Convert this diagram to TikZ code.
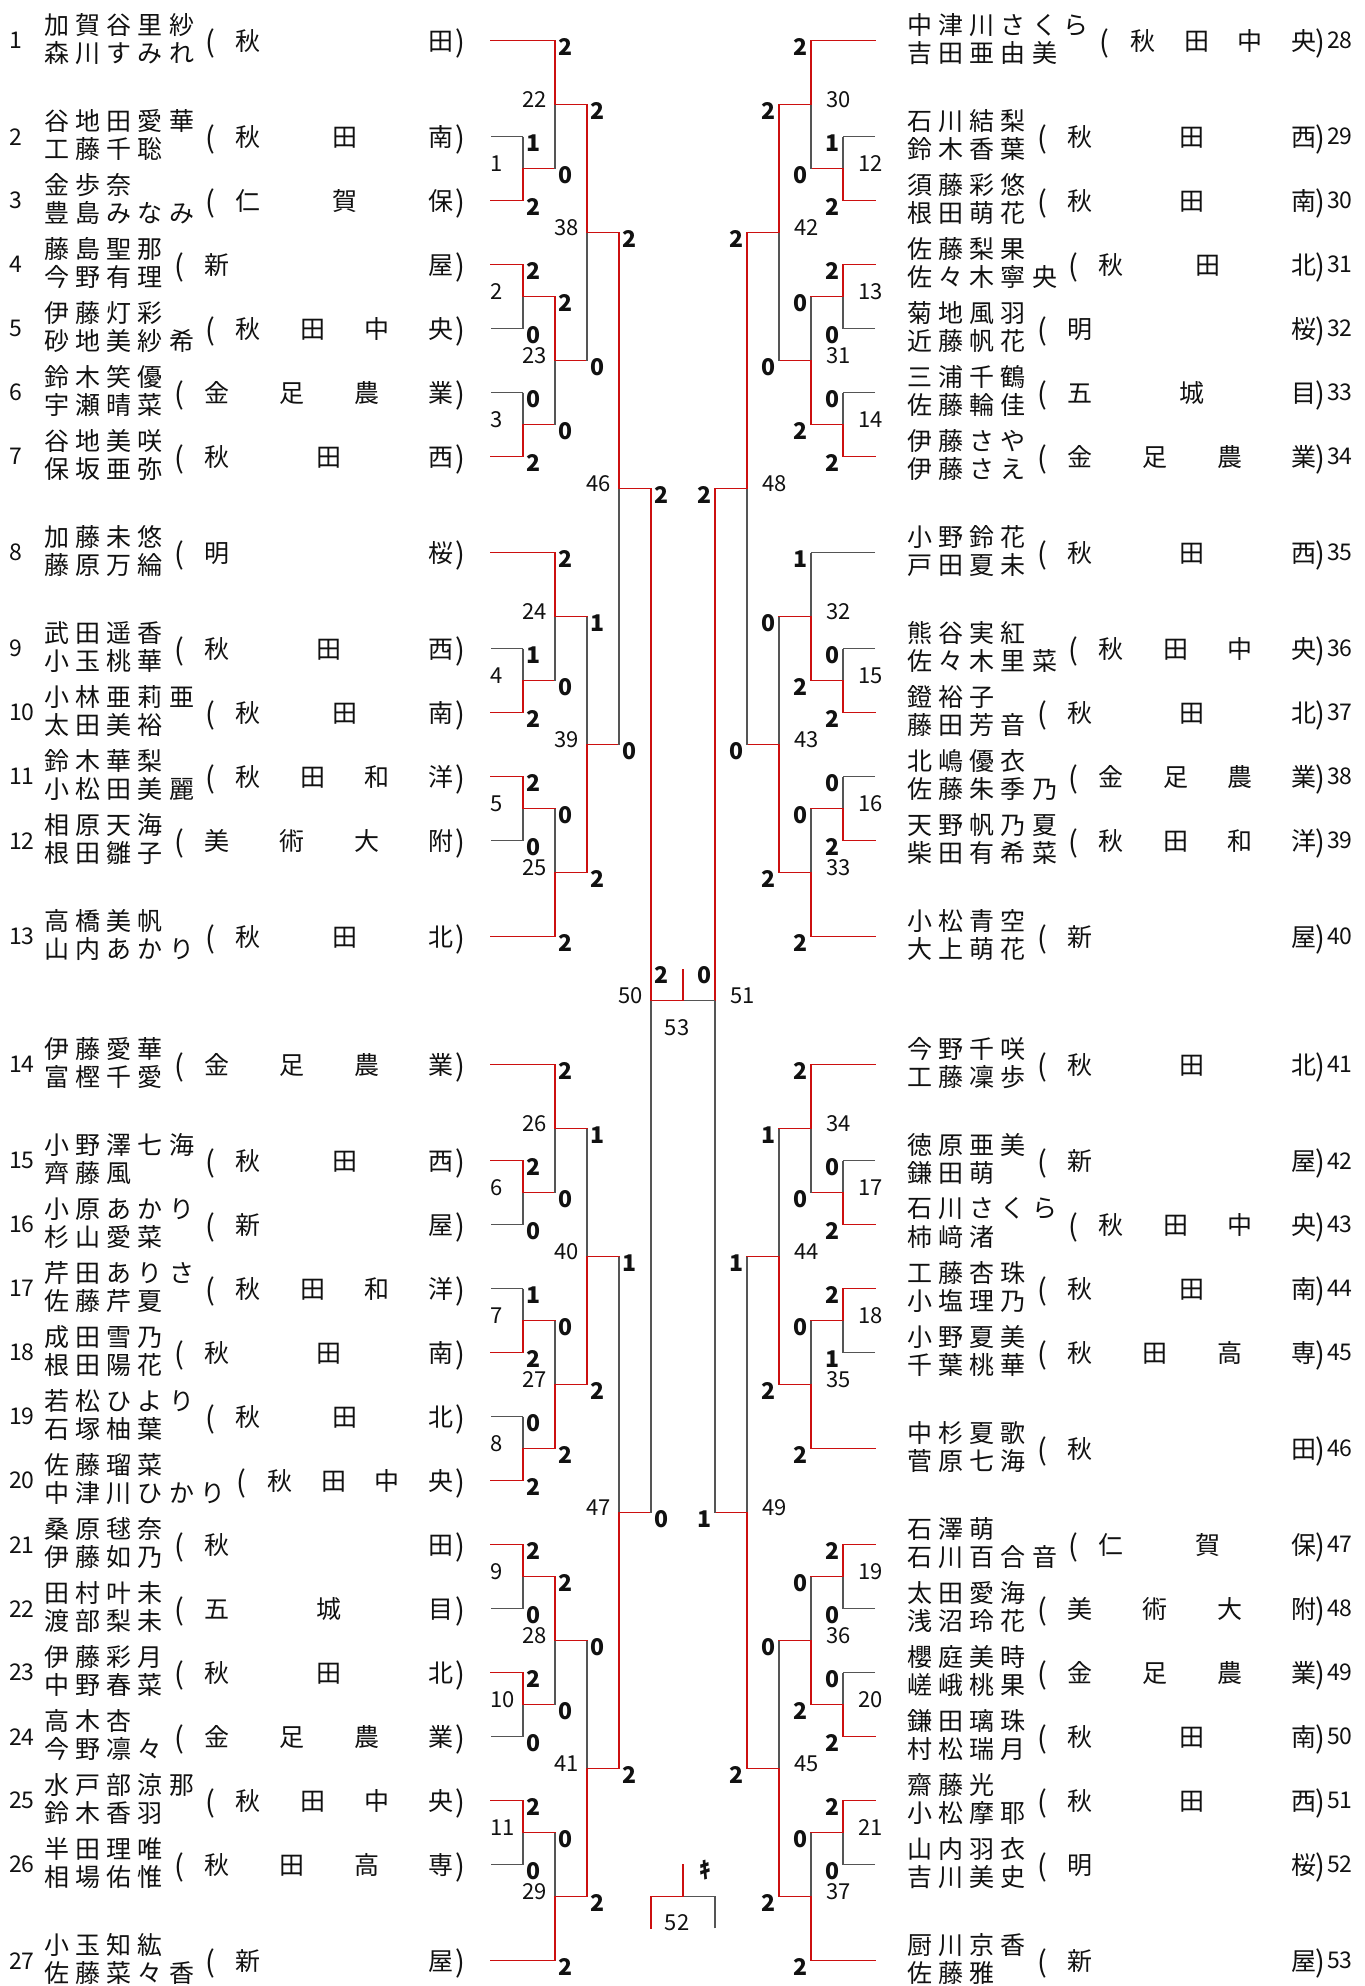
\documentclass[tikz,border=0pt]{standalone}
\usepackage{fontspec}
\setmainfont{Noto Sans CJK JP}
\usepackage{tikz}
\usetikzlibrary{positioning,calc}
\definecolor{textBlack}{HTML}{111111}
\definecolor{winRed}{HTML}{CC1010}
\definecolor{lossGrey}{HTML}{555555}
\newlength\nmpitch
\setlength\nmpitch{31.25pt}
\newcount\nmlen
\newcount\nmlenb
\makeatletter
\newcommand\spaced[1]{\@tfor\nmchar:=#1\do{\makebox[\nmpitch][l]{\nmchar}}}
\newcommand\distr[2]{\makebox[#1][s]{\let\nmsep\relax\@tfor\nmchar:=#2\do{\nmsep\nmchar\let\nmsep\hfill}}}
\newcommand\setnamelen[2]{\nmlen=0 \@tfor\nmchar:=#1\do{\advance\nmlen by 1 }%
  \nmlenb=0 \@tfor\nmchar:=#2\do{\advance\nmlenb by 1 }%
  \ifnum\nmlenb>\nmlen \nmlen=\nmlenb \fi}
\makeatother
\tikzset{
  nametext/.style={inner sep=0pt,text=textBlack,font=\fontsize{25}{25}\selectfont},
  numtext/.style={inner sep=0pt,text=textBlack,font=\fontsize{23}{23}\selectfont},
  paren/.style={inner sep=0pt,text=textBlack,font=\fontsize{29}{29}\selectfont},
  score/.style={inner sep=0pt,text=textBlack,font=\fontsize{23}{23}\selectfont\bfseries},
  mnum/.style={inner sep=0pt,text=textBlack,font=\fontsize{22}{22}\selectfont},
  won/.style={draw=winRed,line width=1.2pt,line cap=rect},
  lost/.style={draw=lossGrey,line width=1.1pt}
}
% #1 number, #2 slot, #3 left of names, #4 x of number, #5 #6 names, #7 school, #8 x of ")"
\newcommand\pairtext[8]{%
  \setnamelen{#5}{#6}%
  \pgfmathsetmacro\ypos{40.7+64*#2}%
  \pgfmathsetmacro\xname{#3+31.25*\the\nmlen}%
  \pgfmathsetlengthmacro\schw{374-31.25*\the\nmlen}%
  \node[numtext,anchor=west] (no#1) at (#4,\ypos) {#1};
  \node[nametext,anchor=west] (na#1) at (#3-1,\ypos-16) {\spaced{#5}};
  \node[nametext,anchor=west] (nb#1) at (#3-1,\ypos+12) {\spaced{#6}};
  \node[paren] (po#1) at (\xname+9,\ypos+3) {(};
  \node[nametext,anchor=west] (sc#1) at (\xname+34.5,\ypos) {\distr{\schw}{#7}};
  \node[paren] (pc#1) at (#8,\ypos+3) {)};
}
\newcommand\leftpair[5]{\pairtext{#1}{#2}{45}{9}{#3}{#4}{#5}{460}\coordinate (e#1) at (491,\ypos);}
\newcommand\rightpair[5]{\pairtext{#1}{#2}{908}{1327}{#3}{#4}{#5}{1320}\coordinate (e#1) at (875,\ypos);}

\begin{document}
\begin{tikzpicture}[x=1pt,y=-1pt]
\fill[white] (0,0) rectangle (1365,1986);
\useasboundingbox (0,0) rectangle (1365,1986);
\foreach \col in {1,...,5}{
  \coordinate (L\col) at (491+32*\col,0);
  \coordinate (R\col) at (875-32*\col,0);
}

\leftpair{1}{0}{加賀谷里紗}{森川すみれ}{秋田}
\leftpair{2}{1.5}{谷地田愛華}{工藤千聡}{秋田南}
\leftpair{3}{2.5}{金歩奈}{豊島みなみ}{仁賀保}
\leftpair{4}{3.5}{藤島聖那}{今野有理}{新屋}
\leftpair{5}{4.5}{伊藤灯彩}{砂地美紗希}{秋田中央}
\leftpair{6}{5.5}{鈴木笑優}{宇瀬晴菜}{金足農業}
\leftpair{7}{6.5}{谷地美咲}{保坂亜弥}{秋田西}
\leftpair{8}{8}{加藤未悠}{藤原万綸}{明桜}
\leftpair{9}{9.5}{武田遥香}{小玉桃華}{秋田西}
\leftpair{10}{10.5}{小林亜莉亜}{太田美裕}{秋田南}
\leftpair{11}{11.5}{鈴木華梨}{小松田美麗}{秋田和洋}
\leftpair{12}{12.5}{相原天海}{根田雛子}{美術大附}
\leftpair{13}{14}{高橋美帆}{山内あかり}{秋田北}
\leftpair{14}{16}{伊藤愛華}{富樫千愛}{金足農業}
\leftpair{15}{17.5}{小野澤七海}{齊藤風}{秋田西}
\leftpair{16}{18.5}{小原あかり}{杉山愛菜}{新屋}
\leftpair{17}{19.5}{芹田ありさ}{佐藤芹夏}{秋田和洋}
\leftpair{18}{20.5}{成田雪乃}{根田陽花}{秋田南}
\leftpair{19}{21.5}{若松ひより}{石塚柚葉}{秋田北}
\leftpair{20}{22.5}{佐藤瑠菜}{中津川ひかり}{秋田中央}
\leftpair{21}{23.5}{桑原毬奈}{伊藤如乃}{秋田}
\leftpair{22}{24.5}{田村叶未}{渡部梨未}{五城目}
\leftpair{23}{25.5}{伊藤彩月}{中野春菜}{秋田北}
\leftpair{24}{26.5}{高木杏}{今野凛々}{金足農業}
\leftpair{25}{27.5}{水戸部涼那}{鈴木香羽}{秋田中央}
\leftpair{26}{28.5}{半田理唯}{相場佑惟}{秋田高専}
\leftpair{27}{30}{小玉知紘}{佐藤菜々香}{新屋}

\rightpair{28}{0}{中津川さくら}{吉田亜由美}{秋田中央}
\rightpair{29}{1.5}{石川結梨}{鈴木香葉}{秋田西}
\rightpair{30}{2.5}{須藤彩悠}{根田萌花}{秋田南}
\rightpair{31}{3.5}{佐藤梨果}{佐々木寧央}{秋田北}
\rightpair{32}{4.5}{菊地風羽}{近藤帆花}{明桜}
\rightpair{33}{5.5}{三浦千鶴}{佐藤輪佳}{五城目}
\rightpair{34}{6.5}{伊藤さや}{伊藤さえ}{金足農業}
\rightpair{35}{8}{小野鈴花}{戸田夏未}{秋田西}
\rightpair{36}{9.5}{熊谷実紅}{佐々木里菜}{秋田中央}
\rightpair{37}{10.5}{鐙裕子}{藤田芳音}{秋田北}
\rightpair{38}{11.5}{北嶋優衣}{佐藤朱季乃}{金足農業}
\rightpair{39}{12.5}{天野帆乃夏}{柴田有希菜}{秋田和洋}
\rightpair{40}{14}{小松青空}{大上萌花}{新屋}
\rightpair{41}{16}{今野千咲}{工藤凜歩}{秋田北}
\rightpair{42}{17.5}{徳原亜美}{鎌田萌}{新屋}
\rightpair{43}{18.5}{石川さくら}{柿﨑渚}{秋田中央}
\rightpair{44}{19.5}{工藤杏珠}{小塩理乃}{秋田南}
\rightpair{45}{20.5}{小野夏美}{千葉桃華}{秋田高専}
\rightpair{46}{22}{中杉夏歌}{菅原七海}{秋田}
\rightpair{47}{23.5}{石澤萌}{石川百合音}{仁賀保}
\rightpair{48}{24.5}{太田愛海}{浅沼玲花}{美術大附}
\rightpair{49}{25.5}{櫻庭美時}{嵯峨桃果}{金足農業}
\rightpair{50}{26.5}{鎌田璃珠}{村松瑞月}{秋田南}
\rightpair{51}{27.5}{齋藤光}{小松摩耶}{秋田西}
\rightpair{52}{28.5}{山内羽衣}{吉川美史}{明桜}
\rightpair{53}{30}{厨川京香}{佐藤雅}{新屋}

\foreach \m/\col/\pa/\pb/\sca/\scb/\ha/\hb in {
  1/1/e2/e3/1/2/lost/won, 2/1/e4/e5/2/0/won/lost, 3/1/e6/e7/0/2/lost/won,
  4/1/e9/e10/1/2/lost/won, 5/1/e11/e12/2/0/won/lost, 6/1/e15/e16/2/0/won/lost,
  7/1/e17/e18/1/2/lost/won, 8/1/e19/e20/0/2/lost/won, 9/1/e21/e22/2/0/won/lost,
  10/1/e23/e24/2/0/won/lost, 11/1/e25/e26/2/0/won/lost,
  22/2/e1/m1/2/0/won/won, 23/2/m2/m3/2/0/won/won, 24/2/e8/m4/2/0/won/won,
  25/2/m5/e13/0/2/won/won, 26/2/e14/m6/2/0/won/won, 27/2/m7/m8/0/2/won/won,
  28/2/m9/m10/2/0/won/won, 29/2/m11/e27/0/2/won/won,
  38/3/m22/m23/2/0/won/won, 39/3/m24/m25/1/2/won/won,
  40/3/m26/m27/1/2/won/won, 41/3/m28/m29/0/2/won/won,
  46/4/m38/m39/2/0/won/won, 47/4/m40/m41/1/2/won/won,
  50/5/m46/m47/2/0/won/won}{
  \coordinate (h\m) at ($(\pa)!0.5!(\pb)$);
  \coordinate (m\m) at (h\m -| L\col);
  \ifnum\sca>\scb\relax \def\va{won}\def\vb{lost}\else \def\va{lost}\def\vb{won}\fi
  \draw[\ha] (\pa) -- (\pa -| m\m);
  \draw[\hb] (\pb) -- (\pb -| m\m);
  \draw[\vb] (\pb -| m\m) -- (m\m);
  \draw[\va] (\pa -| m\m) -- (m\m);
  \node[score,anchor=west] (sa\m) at ($(\pa -| m\m)+(3,6.5)$) {\sca};
  \node[score,anchor=west] (sb\m) at ($(\pb -| m\m)+(3,6.5)$) {\scb};
  \node[mnum,anchor=west] (mn\m) at ($(m\m)+(-33,-5)$) {\m};
}

\foreach \m/\col/\pa/\pb/\sca/\scb/\ha/\hb in {
  12/1/e29/e30/1/2/lost/won, 13/1/e31/e32/2/0/won/lost, 14/1/e33/e34/0/2/lost/won,
  15/1/e36/e37/0/2/lost/won, 16/1/e38/e39/0/2/lost/won, 17/1/e42/e43/0/2/lost/won,
  18/1/e44/e45/2/1/won/lost, 19/1/e47/e48/2/0/won/lost, 20/1/e49/e50/0/2/lost/won,
  21/1/e51/e52/2/0/won/lost,
  30/2/e28/m12/2/0/won/won, 31/2/m13/m14/0/2/won/won, 32/2/e35/m15/1/2/lost/won,
  33/2/m16/e40/0/2/won/won, 34/2/e41/m17/2/0/won/won, 35/2/m18/e46/0/2/won/won,
  36/2/m19/m20/0/2/won/won, 37/2/m21/e53/0/2/won/won,
  42/3/m30/m31/2/0/won/won, 43/3/m32/m33/0/2/won/won,
  44/3/m34/m35/1/2/won/won, 45/3/m36/m37/0/2/won/won,
  48/4/m42/m43/2/0/won/won, 49/4/m44/m45/1/2/won/won,
  51/5/m48/m49/2/1/won/won}{
  \coordinate (h\m) at ($(\pa)!0.5!(\pb)$);
  \coordinate (m\m) at (h\m -| R\col);
  \ifnum\sca>\scb\relax \def\va{won}\def\vb{lost}\else \def\va{lost}\def\vb{won}\fi
  \draw[\ha] (\pa) -- (\pa -| m\m);
  \draw[\hb] (\pb) -- (\pb -| m\m);
  \draw[\vb] (\pb -| m\m) -- (m\m);
  \draw[\va] (\pa -| m\m) -- (m\m);
  \node[score,anchor=east] (sa\m) at ($(\pa -| m\m)+(-3,6.5)$) {\sca};
  \node[score,anchor=east] (sb\m) at ($(\pb -| m\m)+(-3,6.5)$) {\scb};
  \node[mnum,anchor=west] (mn\m) at ($(m\m)+(15.5,-5)$) {\m};
}

\coordinate (m53) at ($(m50)!0.5!(m51)$);
\coordinate (top53) at ($(m53)+(0,-31.4)$);
\draw[lost] (m51) -- (m53);
\draw[won] (m50) -- (m53) -- (top53);
\node[score,anchor=west] (fa53) at ($(m50)+(3,-26)$) {2};
\node[score,anchor=east] (fb53) at ($(m51)+(-3,-26)$) {0};
\node[mnum] (mn53) at ($(m53)+(-6,27)$) {53};

\coordinate (m52) at (m53 |- m29);
\coordinate (pa52) at ($(m52)+(-32,31.6)$);
\coordinate (pb52) at ($(m52)+(32,31.6)$);
\coordinate (top52) at ($(m52)+(0,-32.6)$);
\draw[lost] (pb52) |- (m52);
\draw[won] (pa52) |- (m52) -- (top52);
\node[score] (kiken) at ($(m52)+(22,-26.6)$) {ｷ};
\node[mnum] (mn52) at ($(m52)+(-6,26)$) {52};
\end{tikzpicture}
\end{document}
